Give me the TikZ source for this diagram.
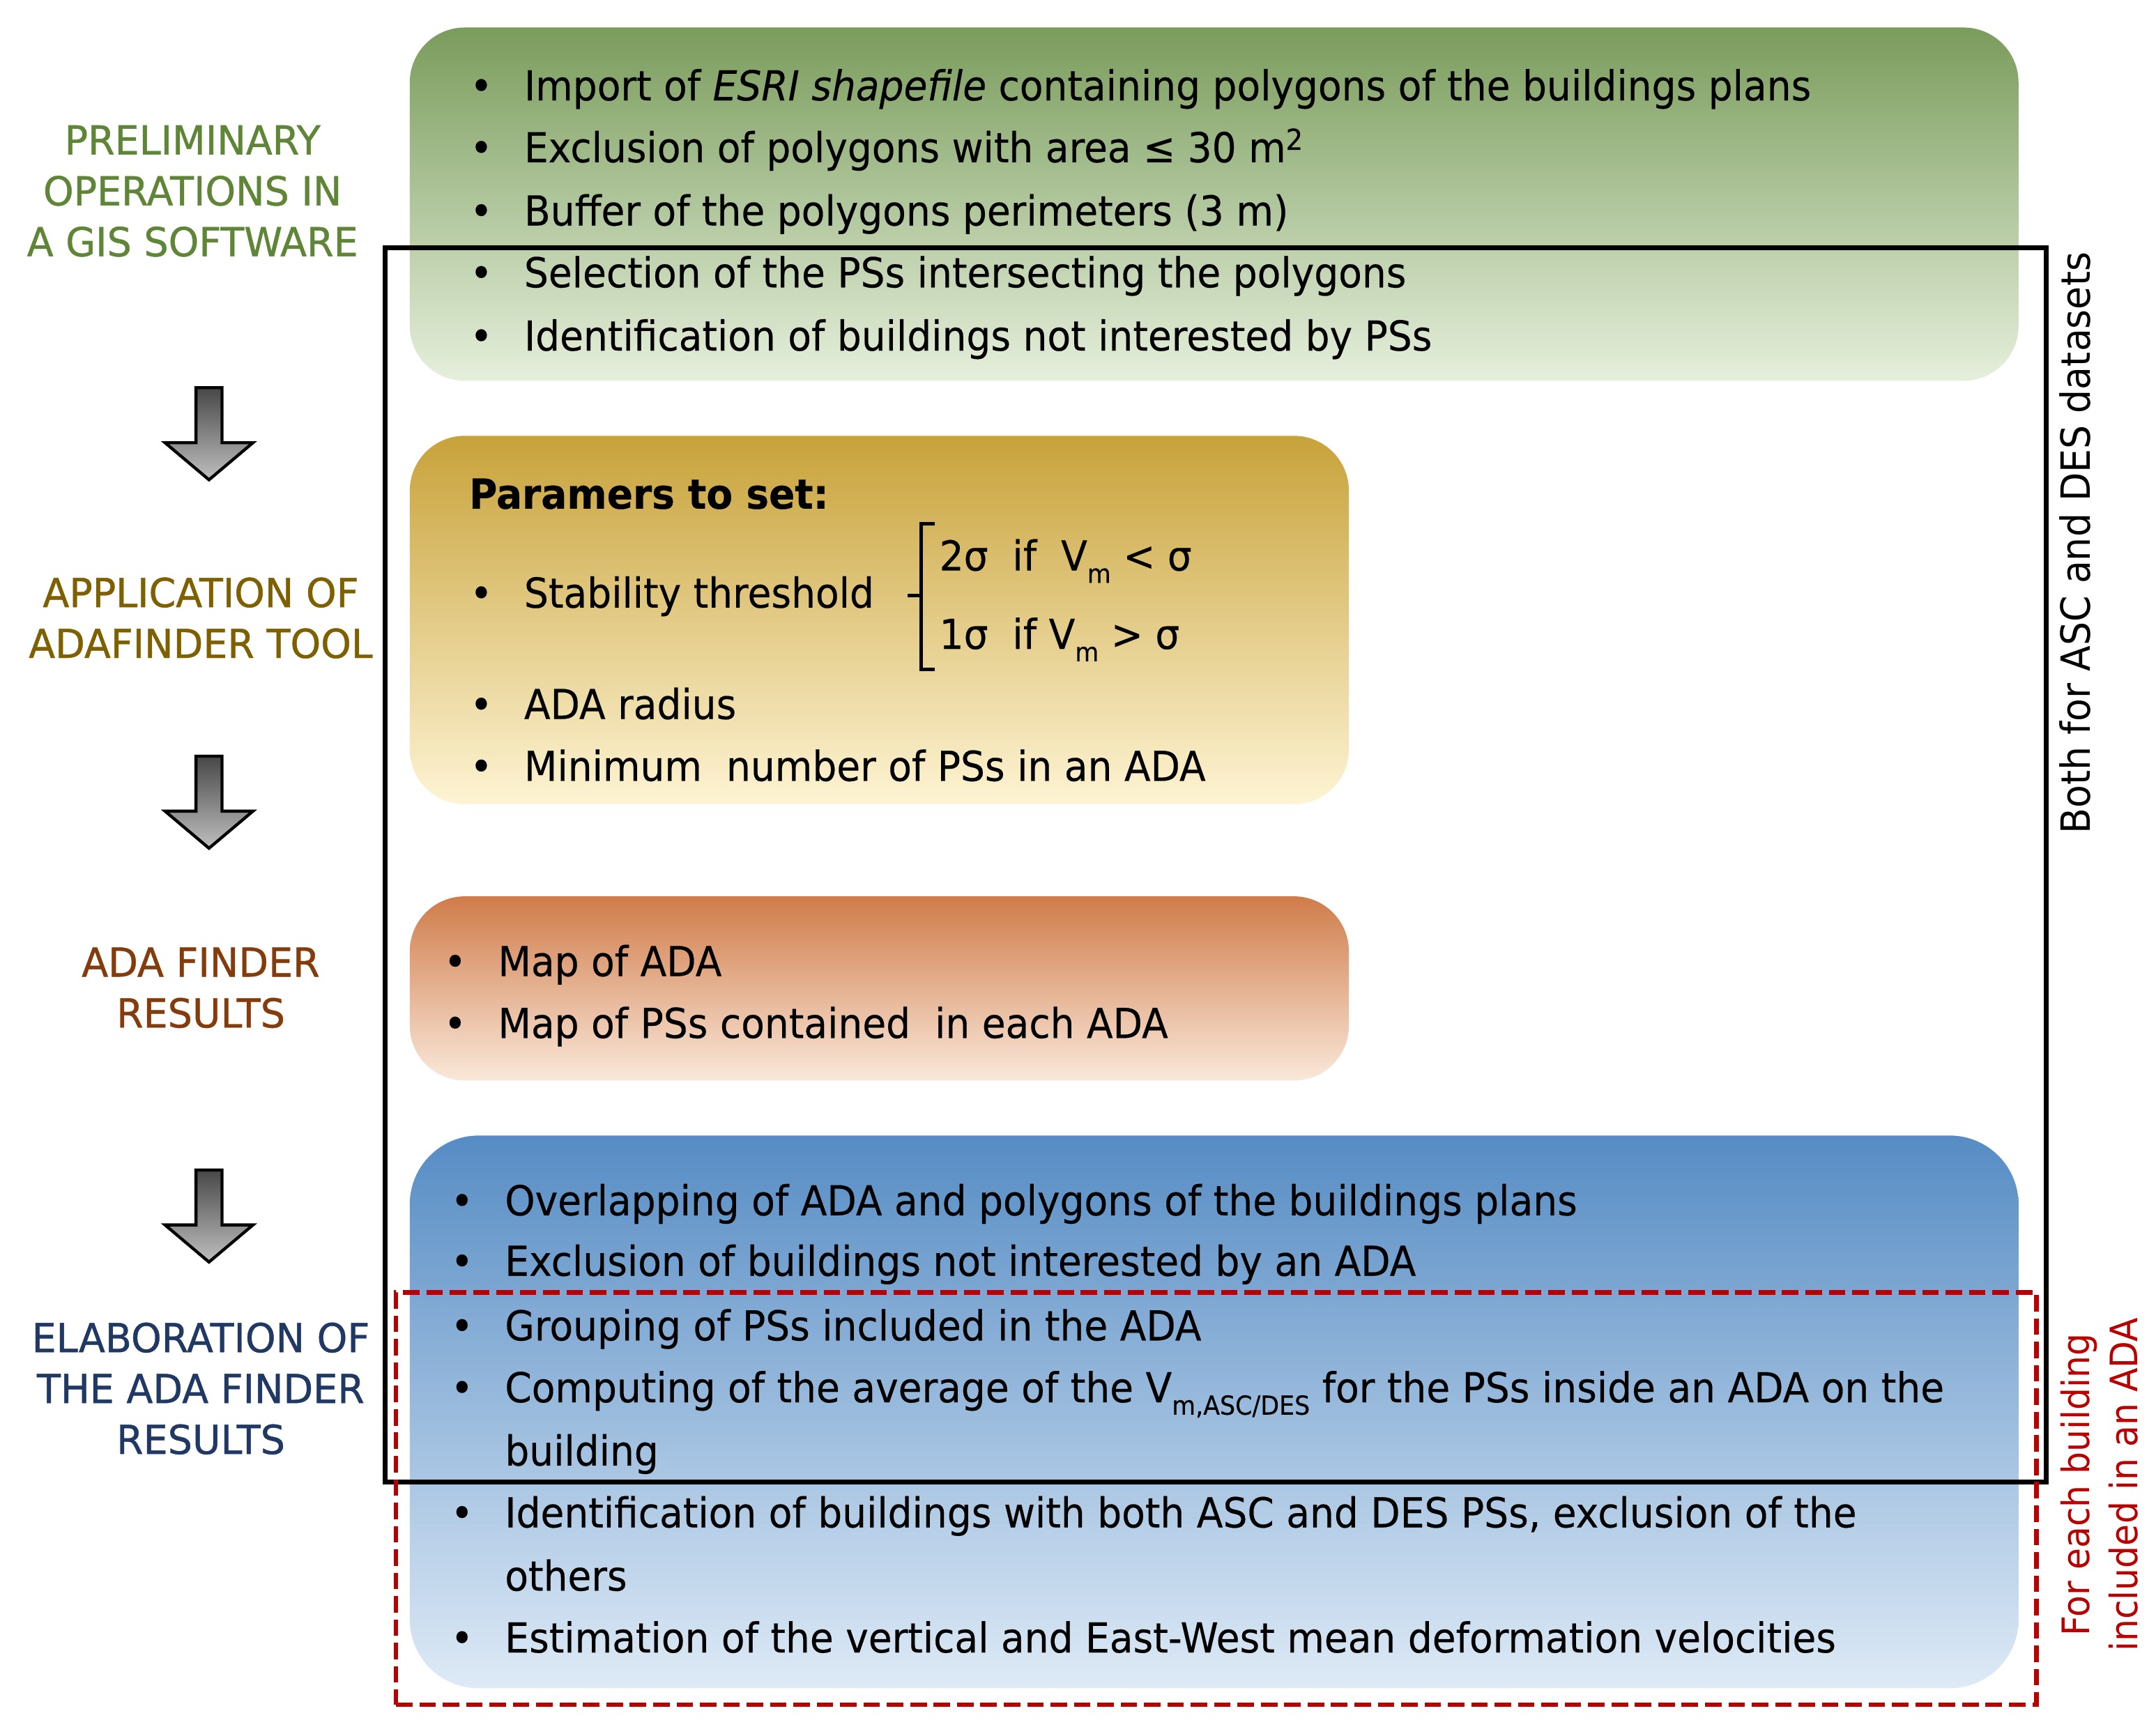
\documentclass[tikz,border=0pt]{standalone}
\usepackage{fontspec}
\setmainfont{DejaVu Sans}[FakeStretch=0.93, FakeBold=0.3]
\newfontfamily\labelfont{DejaVu Sans}[FakeStretch=0.97, FakeBold=0.8]
\newfontfamily\sidefont{DejaVu Sans}[FakeStretch=0.93]
\definecolor{gtop}{RGB}{122,156,92}
\definecolor{gmid}{RGB}{172,198,150}
\definecolor{gbot}{RGB}{230,239,220}
\definecolor{ytop}{RGB}{200,162,58}
\definecolor{ymid}{RGB}{232,202,122}
\definecolor{ybot}{RGB}{254,244,212}
\definecolor{otop}{RGB}{208,124,74}
\definecolor{omid}{RGB}{226,165,125}
\definecolor{obot}{RGB}{250,232,218}
\definecolor{btop}{RGB}{86,140,196}
\definecolor{bmid}{RGB}{135,176,216}
\definecolor{bbot}{RGB}{222,234,246}
\definecolor{lgreen}{RGB}{95,133,55}
\definecolor{lgold}{RGB}{127,96,0}
\definecolor{lbrown}{RGB}{132,60,12}
\definecolor{lnavy}{RGB}{31,56,100}
\definecolor{dred}{RGB}{185,0,0}
\newcommand\bodysize{\fontsize{30}{36}\selectfont}
\newcommand\lowsub[1]{\raisebox{-0.3em}{\fontsize{19}{20}\selectfont #1}}
\tikzset{
  panel/.style={rounded corners=40pt, inner sep=0pt, draw=none},
  item/.style={anchor=base west, inner sep=0pt, font=\bodysize},
  dot/.style={anchor=base, inner sep=0pt, font=\bodysize},
  steplabel/.style={align=center, inner sep=0pt, font=\labelfont\fontsize{29}{37}\selectfont},
  sidelabel/.style={rotate=90, align=center, inner sep=0pt, font=\sidefont\fontsize{29.3}{35}\selectfont},
  redlabel/.style={rotate=90, align=center, inner sep=0pt, text=dred, font=\sidefont\fontsize{27.5}{35}\selectfont},
  blockarrow/.pic={
    \shade[top color=black!72, bottom color=black!25, draw=black, line width=2.2pt, line join=miter]
      (-9.5,0) -- (9.5,0) -- (9.5,40) -- (32,40) -- (0,67) -- (-32,40) -- (-9.5,40) -- cycle;
  }
}
\begin{document}
\begin{tikzpicture}[x=1pt,y=-1pt]
\useasboundingbox[fill=white] (0,0) rectangle (1568,1256);

% panels
\node[panel, top color=gtop, middle color=gmid, bottom color=gbot, minimum width=1170pt, minimum height=257pt] (green) at (883,148.5) {};
\node[panel, top color=ytop, middle color=ymid, bottom color=ybot, minimum width=683pt, minimum height=268pt] (yellow) at (639.5,451) {};
\node[panel, top color=otop, middle color=omid, bottom color=obot, minimum width=683pt, minimum height=134pt] (orange) at (639.5,719) {};
\node[panel, rounded corners=50pt, top color=btop, middle color=bmid, bottom color=bbot, minimum width=1170pt, minimum height=402pt] (blue) at (883,1027) {};

% frames
\node[draw=black, line width=3.5pt, inner sep=0pt, minimum width=1208pt, minimum height=898pt] (bothframe) at (884,629) {};
\node[draw=dred, line width=3.3pt, dash pattern=on 12pt off 5pt, inner sep=0pt, minimum width=1193pt, minimum height=300pt] (eachframe) at (884.5,1090) {};

% arrows
\pic at (152,282) {blockarrow};
\pic at (152,550) {blockarrow};
\pic at (152,851) {blockarrow};

% step labels
\node[steplabel, text=lgreen] (lab1) at (140,139) {PRELIMINARY\\OPERATIONS IN\\A GIS SOFTWARE};
\node[steplabel, text=lgold] (lab2) at (146,449.5) {APPLICATION OF\\ADAFINDER TOOL};
\node[steplabel, text=lbrown] (lab3) at (146,718.5) {ADA FINDER\\RESULTS};
\node[steplabel, text=lnavy] (lab4) at (146,1010) {ELABORATION OF\\THE ADA FINDER\\RESULTS};

% side labels
\node[sidelabel] (both) at (1509,395) {Both for ASC and DES datasets};
\node[redlabel] (foreach) at (1527,1080) {For each building\\included in an ADA};

% green panel text
\node[dot] (g1b) at (350,73) {•};
\node[item] (g1) at (381,73) {Import of \textit{ESRI shapefile} containing polygons of the buildings plans};
\node[dot] (g2b) at (350,118) {•};
\node[item] (g2) at (381,118) {Exclusion of polygons with area ≤ 30 m\textsuperscript{2}};
\node[dot] (g3b) at (350,164) {•};
\node[item] (g3) at (381,164) {Buffer of the polygons perimeters (3 m)};
\node[dot] (g4b) at (350,209) {•};
\node[item] (g4) at (381,209) {Selection of the PSs intersecting the polygons};
\node[dot] (g5b) at (350,255) {•};
\node[item] (g5) at (381,255) {Identification of buildings not interested by PSs};

% yellow panel text
\node[item, font=\bodysize\bfseries] (y0) at (341,370) {Paramers to set:};
\node[dot] (y1b) at (350,442) {•};
\node[item] (y1) at (381,442) {Stability threshold};
\draw[line width=2.5pt] (680,381) -- (670,381) -- (670,487) -- (680,487);
\draw[line width=2.5pt] (670,433) -- (660,433);
\node[item] (y1a) at (683,415) {2σ\ \ if\ \ V\lowsub{m} < σ};
\node[item] (y1c) at (683,472) {1σ\ \ if V\lowsub{m} > σ};
\node[dot] (y2b) at (350,523) {•};
\node[item] (y2) at (381,523) {ADA radius};
\node[dot] (y3b) at (350,568) {•};
\node[item] (y3) at (381,568) {Minimum\ \ number of PSs in an ADA};

% orange panel text
\node[dot] (o1b) at (331,710) {•};
\node[item] (o1) at (362,710) {Map of ADA};
\node[dot] (o2b) at (331,755) {•};
\node[item] (o2) at (362,755) {Map of PSs contained\ \ in each ADA};

% blue panel text
\node[dot] (b1b) at (336,884) {•};
\node[item] (b1) at (367,884) {Overlapping of ADA and polygons of the buildings plans};
\node[dot] (b2b) at (336,928) {•};
\node[item] (b2) at (367,928) {Exclusion of buildings not interested by an ADA};
\node[dot] (b3b) at (336,975) {•};
\node[item] (b3) at (367,975) {Grouping of PSs included in the ADA};
\node[dot] (b4b) at (336,1020) {•};
\node[item] (b4) at (367,1020) {Computing of the average of the V\lowsub{m,ASC/DES} for the PSs inside an ADA on the};
\node[item] (b4x) at (367,1066) {building};
\node[dot] (b5b) at (336,1111) {•};
\node[item] (b5) at (367,1111) {Identification of buildings with both ASC and DES PSs, exclusion of the};
\node[item] (b5x) at (367,1157) {others};
\node[dot] (b6b) at (336,1202) {•};
\node[item] (b6) at (367,1202) {Estimation of the vertical and East-West mean deformation velocities};
\end{tikzpicture}
\end{document}
